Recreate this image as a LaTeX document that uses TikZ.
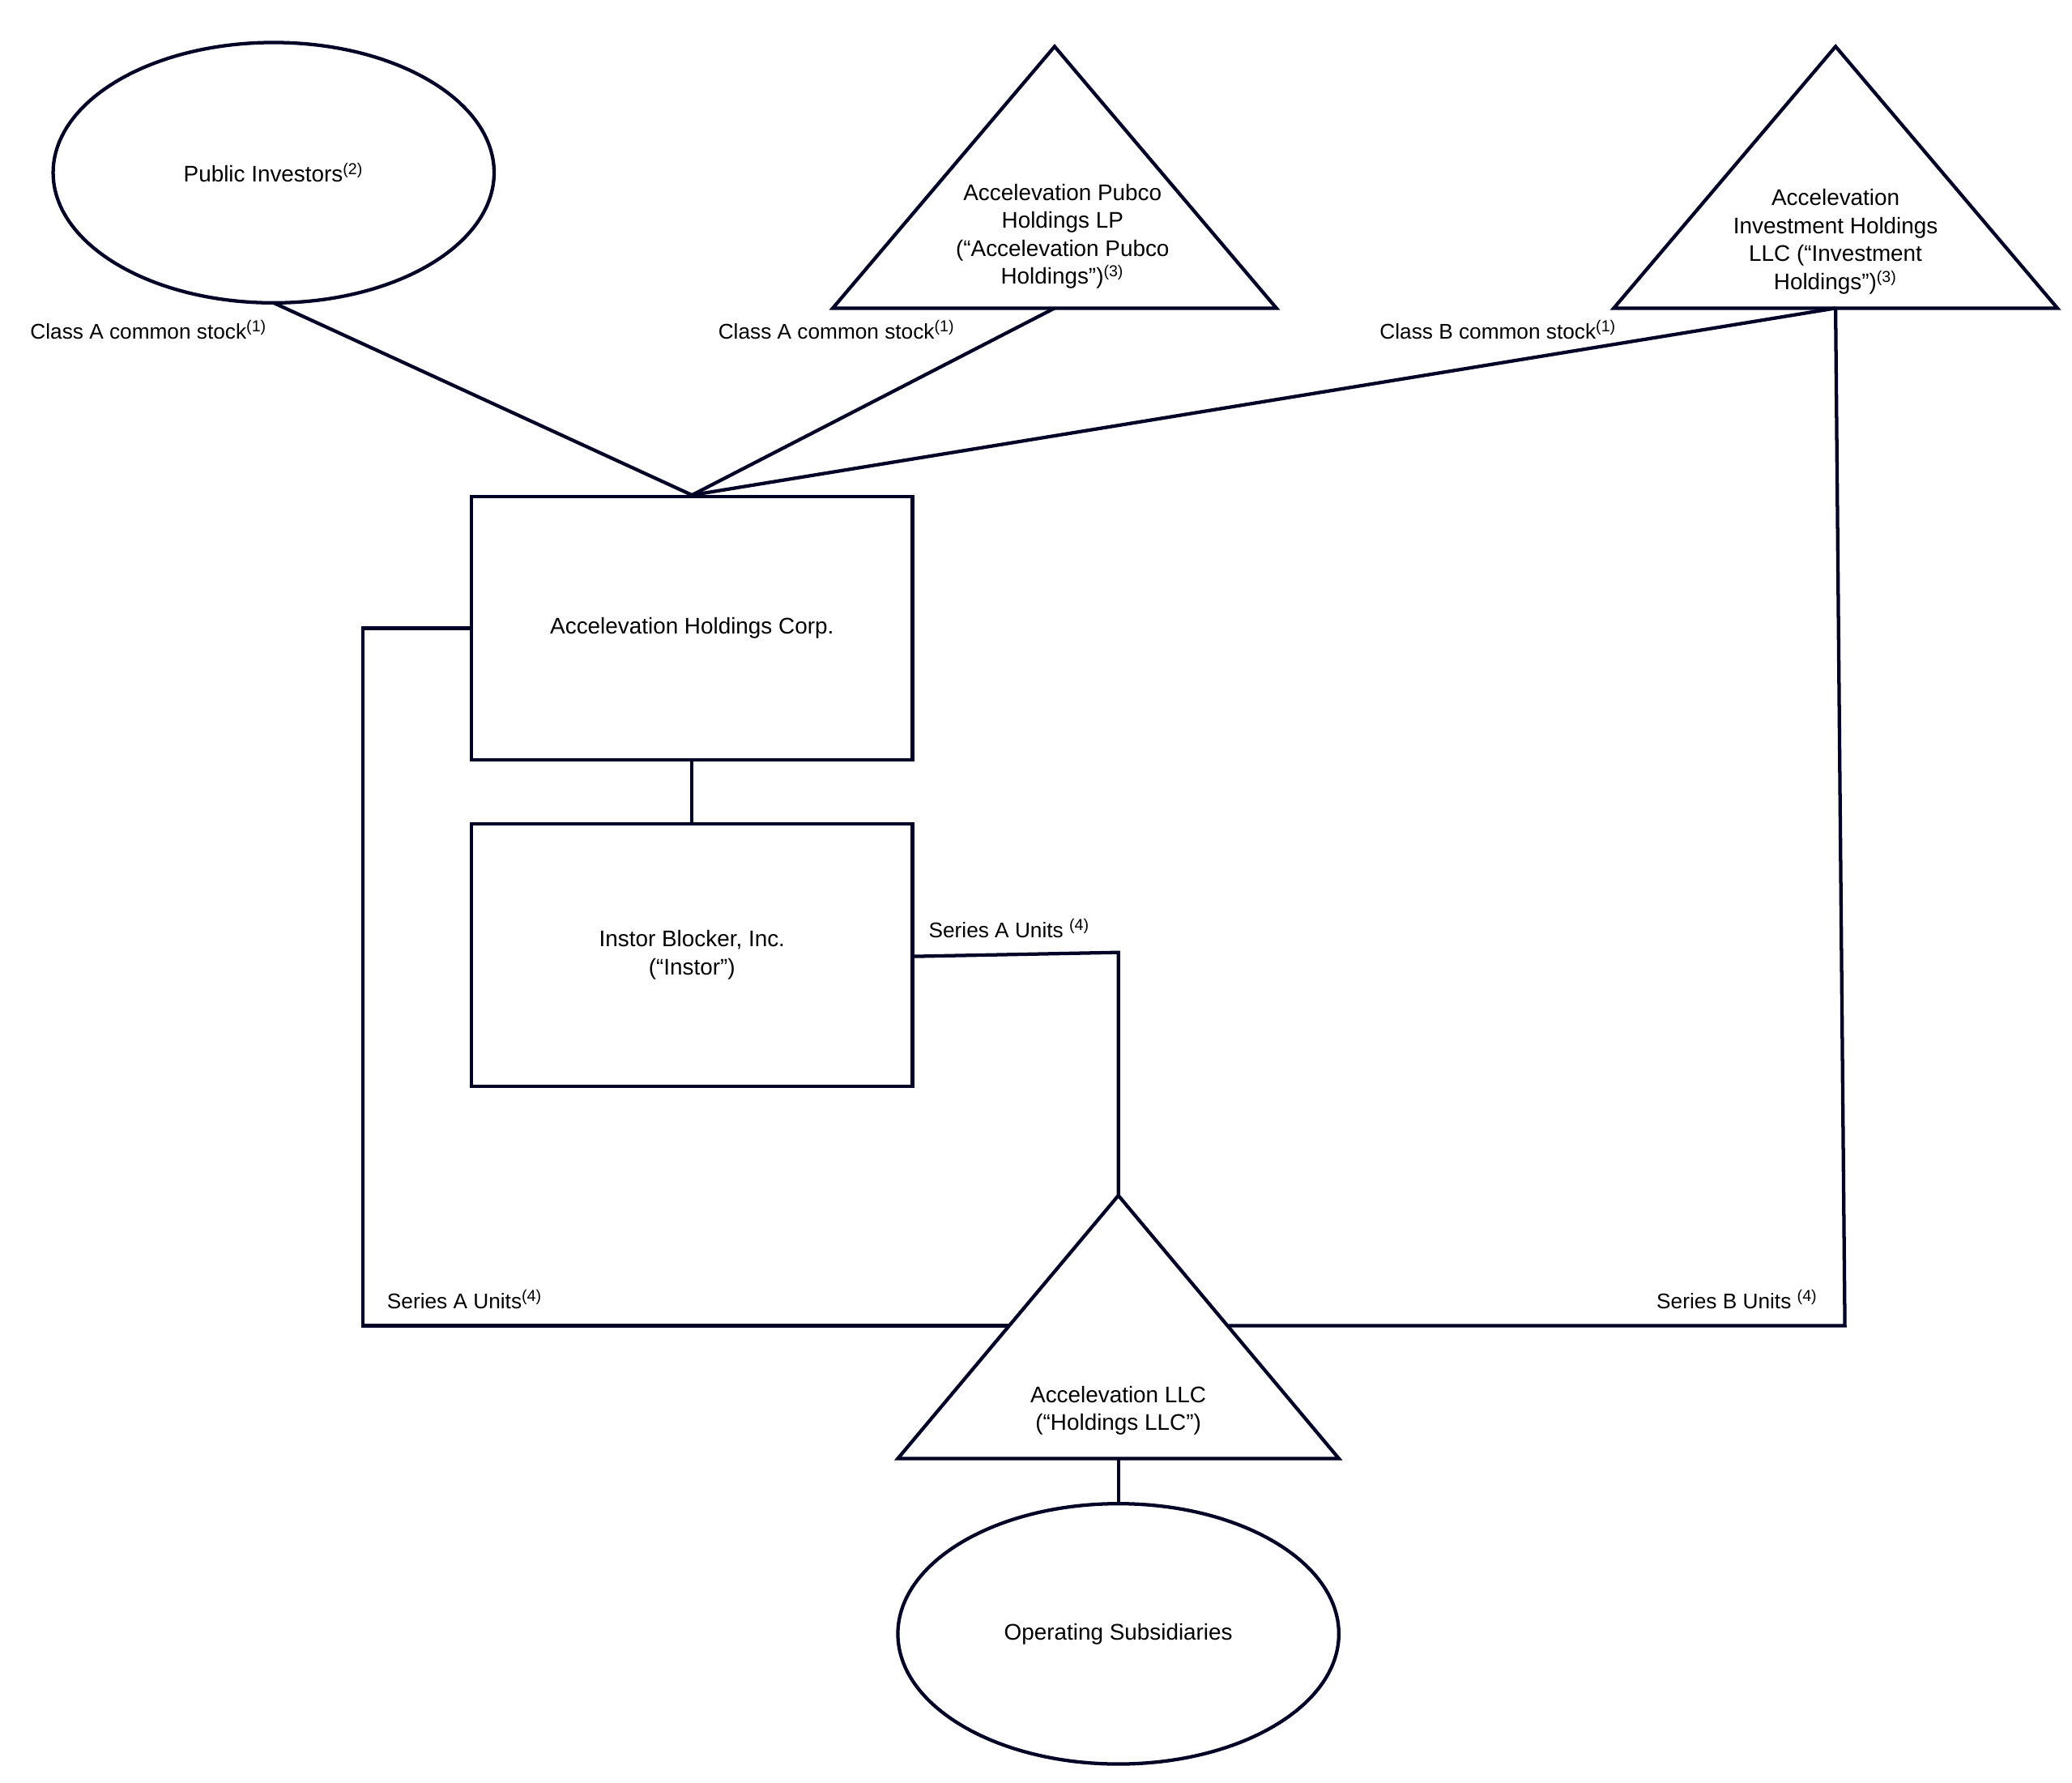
\documentclass[tikz,border=0pt]{standalone}
\usepackage{fontspec}
\setmainfont{Liberation Sans}
\begin{document}
\begin{tikzpicture}[x=0.5pt, y=-0.5pt, line width=1.3pt, draw=black!85!blue,
  every node/.style={font=\fontsize{8.5}{10.5}\selectfont, align=center},
  lbl/.style={font=\fontsize{8}{10}\selectfont}]
\useasboundingbox (0,0) rectangle (1560,1342);
% entities
\draw (206,130) ellipse [x radius=166, y radius=98];
\node (pub) at (206,130) {Public Investors\textsuperscript{(2)}};
\coordinate (pubS) at (206,228);
\draw (794,35) -- (961,232) -- (627,232) -- cycle;
\node (pubco) at (800,178) {Accelevation Pubco\\Holdings LP\\(“Accelevation Pubco\\Holdings”)\textsuperscript{(3)}};
\coordinate (pubcoS) at (794,232);
\draw (1382,35) -- (1549,232) -- (1215,232) -- cycle;
\node (inv) at (1382,182) {Accelevation\\Investment Holdings\\LLC (“Investment\\Holdings”)\textsuperscript{(3)}};
\coordinate (invS) at (1382,232);
\node[draw, minimum width=166pt, minimum height=99pt] (corp) at (521,473) {Accelevation Holdings Corp.};
\node[draw, minimum width=166pt, minimum height=99pt] (instor) at (521,719) {Instor Blocker, Inc.\\(“Instor”)};
\draw (842,900) -- (1008,1098) -- (676,1098) -- cycle;
\node (llc) at (842,1062) {Accelevation LLC\\(“Holdings LLC”)};
\coordinate (llcN) at (842,900);
\coordinate (llcS) at (842,1098);
\coordinate (llcL) at (759,998);
\coordinate (llcR) at (925,998);
\draw (842,1230) ellipse [x radius=166, y radius=98];
\node (ops) at (842,1230) {Operating Subsidiaries};
\coordinate (opsN) at (842,1132);
% connectors
\draw (pubS) -- (corp.north);
\draw (pubcoS) -- (corp.north);
\draw (invS) -- (corp.north);
\draw (corp.south) -- (instor.north);
\draw (instor.east |- 0,720) -- (842,717) -- (llcN);
\draw (corp.west) -- (273,473) -- (273,998) -- (llcL);
\draw (llcR) -- (1389,998) -- (invS);
\draw (llcS) -- (opsN);
% labels
\node[lbl] at (112,248) {Class A common stock\textsuperscript{(1)}};
\node[lbl] at (630,248) {Class A common stock\textsuperscript{(1)}};
\node[lbl] at (1128,248) {Class B common stock\textsuperscript{(1)}};
\node[lbl] at (760,699) {Series A Units \textsuperscript{(4)}};
\node[lbl] at (350,978) {Series A Units\textsuperscript{(4)}};
\node[lbl] at (1308,978) {Series B Units \textsuperscript{(4)}};
\end{tikzpicture}
\end{document}
